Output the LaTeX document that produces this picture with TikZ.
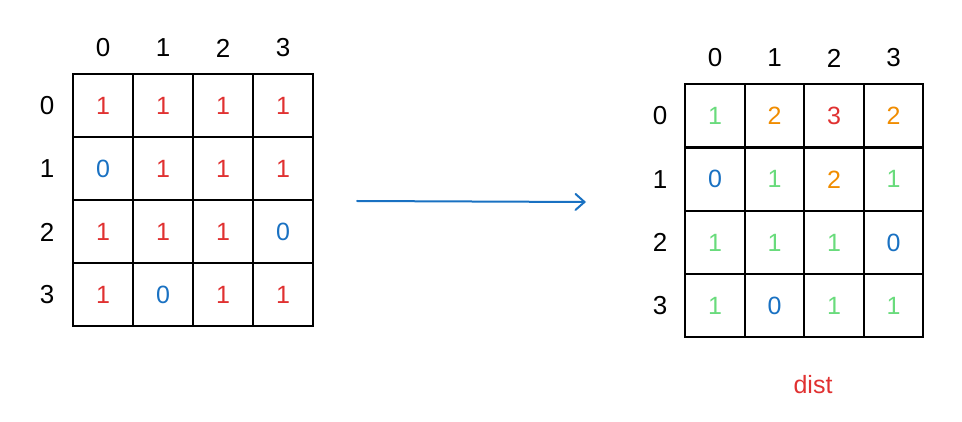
\documentclass[tikz,border=0pt]{standalone}
\usepackage{fontspec}
\setmainfont{Liberation Sans}
\usetikzlibrary{arrows.meta}
\definecolor{cr}{HTML}{E03131}
\definecolor{cb}{HTML}{1971C2}
\definecolor{cg}{HTML}{69DB7C}
\definecolor{co}{HTML}{F08C00}
\tikzset{cell/.style={draw=black,line width=2pt,minimum width=60pt,minimum height=63pt,inner sep=0pt,font=\fontsize{25}{25}\selectfont},
lab/.style={font=\fontsize{26}{26}\selectfont}}
\begin{document}
\begin{tikzpicture}[x=1pt,y=-1pt]
\useasboundingbox (0,0) rectangle (962,422);
\def\L#1#2#3#4{\node[cell,text=#3] (l#1#2) at ({103+60*#2},{106+63*#1}) {#4};}
\L00{cr}{1}\L01{cr}{1}\L02{cr}{1}\L03{cr}{1}
\L10{cb}{0}\L11{cr}{1}\L12{cr}{1}\L13{cr}{1}
\L20{cr}{1}\L21{cr}{1}\L22{cr}{1}\L23{cb}{0}
\L30{cr}{1}\L31{cb}{0}\L32{cr}{1}\L33{cr}{1}
\foreach \i in {0,1,2,3}{
  \node[lab] (lh\i) at ({103+60*\i},48) {\i};
  \node[lab] (lr\i) at (47,{106+63*\i}) {\i};
}
\def\R#1#2#3#4{\node[cell,minimum width=59.5pt,text=#3] (r#1#2) at ({715+59.5*#2},{116+63.3*#1}) {#4};}
\R00{cg}{1}\R01{co}{2}\R02{cr}{3}\R03{co}{2}
\R10{cb}{0}\R11{cg}{1}\R12{co}{2}\R13{cg}{1}
\R20{cg}{1}\R21{cg}{1}\R22{cg}{1}\R23{cb}{0}
\R30{cg}{1}\R31{cb}{0}\R32{cg}{1}\R33{cg}{1}
\foreach \i in {0,1,2,3}{
  \node[lab] (rh\i) at ({715+59.5*\i},58) {\i};
  \node[lab] (rr\i) at (660,{116+63.3*\i}) {\i};
}
\node[text=cr,font=\fontsize{25}{25}\selectfont] (dist) at (813,385) {dist};
\coordinate (a1) at (357,201);
\coordinate (a2) at (586,202);
\draw[cb,line width=2pt,line cap=round,-{Straight Barb[length=9pt,width=16pt,line cap=round]}] (a1) -- (a2);
\end{tikzpicture}
\end{document}
